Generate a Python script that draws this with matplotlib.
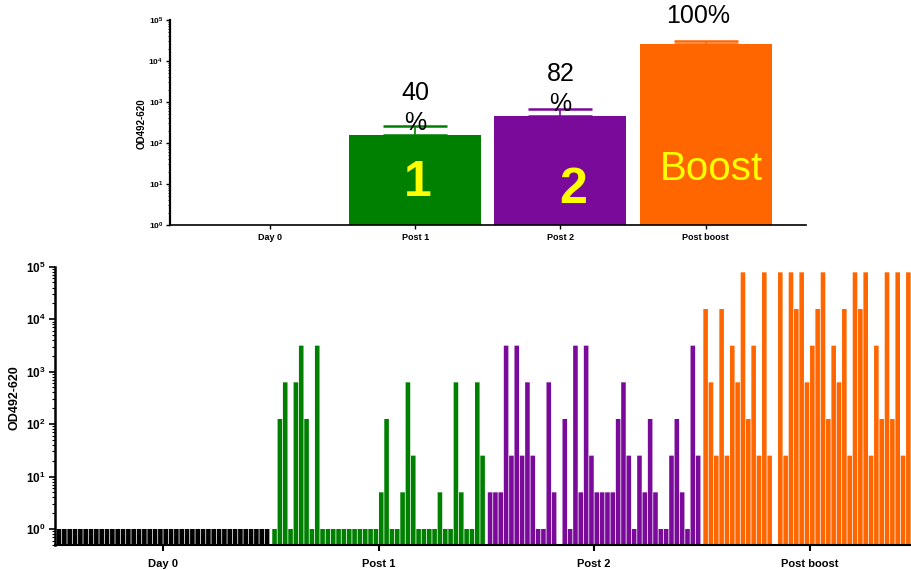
import numpy as np
import matplotlib
matplotlib.use("Agg")
from matplotlib import pyplot as plt
from matplotlib.ticker import NullFormatter, LogLocator

plt.rcParams['font.family'] = ['Liberation Sans', 'DejaVu Sans']
plt.rcParams['mathtext.fontset'] = 'custom'
plt.rcParams['mathtext.rm'] = 'Liberation Sans:bold'
plt.rcParams['mathtext.bf'] = 'Liberation Sans:bold'

groups = ["Day 0", "Post 1", "Post 2", "Post boost"]
group_colors = ["#000000", "#008000", "#7a0a99", "#ff6600"]

# top panel: group mean and upper error
mean_titer = [1, 157, 463, 25500]
upper_err = [1, 265, 665, 31300]
responders = ["", "40\n%", "82\n%", "100%"]
bar_tags = ["", "1", "2", "Boost"]

# bottom panel: individual titers (5-fold dilutions), nan = no value
day0 = [1] * 40
post1 = [1, 125, 625, 1, 625, 3125, 125, 1, 3125, 1,
         1, 1, 1, 1, 1, 1, 1, 1, 1, 1,
         5, 125, 1, 1, 5, 625, 25, 1, 1, 1,
         1, 5, 1, 1, 625, 5, 1, 1, 625, 25]
post2 = [5, 5, 5, 3125, 25, 3125, 25, 625, 25, 1,
         1, 625, 5, np.nan, 125, 1, 3125, 5, 3125, 25,
         5, 5, 5, 5, 125, 625, 25, 1, 25, 5,
         125, 5, 1, 1, 25, 125, 5, 1, 3125, 25]
boost = [15625, 625, 25, 15625, 25, 3125, 625, 78125, 125, 3125,
         25, 78125, 25, np.nan, 78125, 25, 78125, 15625, 78125, 625,
         3125, 15625, 78125, 125, 3125, 625, 15625, 25, 78125, 15625,
         78125, 25, 3125, 125, 78125, 125, 78125, 25, 78125, 625]

yticks = [1, 10, 100, 1000, 10000, 100000]
ytick_labels = [r"$\mathbf{10^{%d}}$" % k for k in range(6)]


def style_axis(ax, lw_left, lw_bottom):
    ax.spines['top'].set_visible(False)
    ax.spines['right'].set_visible(False)
    ax.spines['left'].set_linewidth(lw_left)
    ax.spines['bottom'].set_linewidth(lw_bottom)
    ax.yaxis.set_minor_locator(LogLocator(base=10, subs=np.arange(2, 10)))
    ax.yaxis.set_minor_formatter(NullFormatter())


fig = plt.figure(figsize=(9.12, 5.7), dpi=100)

# ---- top summary panel
ax1 = fig.add_axes([170 / 912, 1 - 225 / 570, 635.7 / 912, 205 / 570])
ax1.set_yscale('log')
x = np.arange(len(groups))
ax1.bar(x, mean_titer, width=0.91, color=group_colors, edgecolor='none')
for i in x:
    e = upper_err[i] - mean_titer[i]
    if e > 0:
        ax1.errorbar(i, mean_titer[i], yerr=[[0], [e]], color=group_colors[i],
                     capsize=23, elinewidth=1.2, capthick=1.8)
ax1.set_ylim(1, 1e5)
ax1.set_xlim(-0.69, 3.69)
ax1.set_yticks(yticks)
ax1.set_yticklabels(ytick_labels, fontsize=6)
ax1.set_xticks(x)
ax1.set_xticklabels(groups, fontsize=6.5, fontweight='bold')
ax1.tick_params(axis='x', length=3, width=1, pad=3)
ax1.tick_params(axis='y', which='major', length=3, width=1, pad=2)
ax1.tick_params(axis='y', which='minor', length=1.5, width=0.6)
style_axis(ax1, 1.6, 1.2)
ax1.set_ylabel("OD492-620", fontsize=7, fontweight='bold')
ax1.yaxis.set_label_coords(-0.037, 0.495)

ax1.text(1, 714, responders[1], ha='center', va='center', fontsize=18, linespacing=1.3)
ax1.text(2, 2075, responders[2], ha='center', va='center', fontsize=18, linespacing=1.3)
ax1.text(2.95, 1.25e5, responders[3], ha='center', va='center', fontsize=18, clip_on=False)
ax1.text(1.02, 10.5, bar_tags[1], ha='center', va='center', fontsize=36,
         fontweight='bold', color='#ffff00')
ax1.text(2.09, 7.3, bar_tags[2], ha='center', va='center', fontsize=36,
         fontweight='bold', color='#ffff00')
ax1.text(3.04, 23, bar_tags[3], ha='center', va='center', fontsize=29,
         color='#ffff00')

# ---- bottom individual panel
step = 40.4
n = 40
ax2 = fig.add_axes([55 / 912, 25 / 570, 862.7 / 912, 278.3 / 570])
ax2.set_yscale('log')
for g, vals in enumerate([day0, post1, post2, boost]):
    pos = g * step + np.arange(n)
    ax2.bar(pos, vals, width=0.86, color=group_colors[g], edgecolor='none', snap=False)
ax2.set_xlim(-0.75, 3 * step + n - 1 + 0.75)
ax2.set_ylim(0.495, 1e5)
ax2.set_yticks(yticks)
ax2.set_yticklabels(ytick_labels, fontsize=8.5)
ax2.set_xticks([g * step + (n - 1) / 2 for g in range(len(groups))])
ax2.set_xticklabels(groups, fontsize=8, fontweight='bold')
ax2.tick_params(axis='x', length=4, width=1.5, pad=6)
ax2.tick_params(axis='y', which='major', length=4, width=1.2, pad=3)
ax2.tick_params(axis='y', which='minor', length=2, width=0.8)
style_axis(ax2, 1.8, 1.5)
ax2.set_ylabel("OD492-620", fontsize=9, fontweight='bold')
ax2.yaxis.set_label_coords(-0.04, 0.528)

fig.savefig('out.png', dpi=100)
plt.close()
